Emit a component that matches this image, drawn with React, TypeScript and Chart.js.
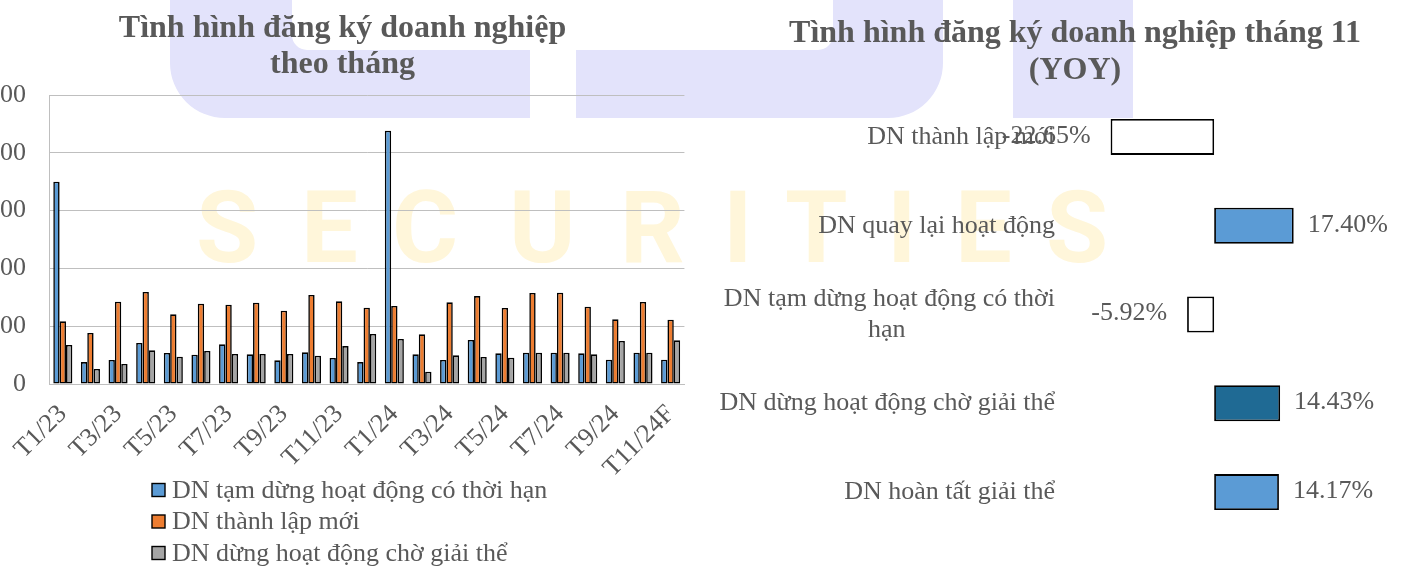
import React, { useEffect, useRef } from "react";
import { Chart, registerables } from "chart.js";

Chart.register(...registerables);

// ---------- Left chart data ----------
const months = [
  "T1/23", "T2/23", "T3/23", "T4/23", "T5/23", "T6/23", "T7/23", "T8/23", "T9/23", "T10/23", "T11/23", "T12/23",
  "T1/24", "T2/24", "T3/24", "T4/24", "T5/24", "T6/24", "T7/24", "T8/24", "T9/24", "T10/24", "T11/24F",
];
const seriesNames = [
  "DN tạm dừng hoạt động có thời hạn",
  "DN thành lập mới",
  "DN dừng hoạt động chờ giải thể",
];
const suspended = [35000, 3800, 4150, 7090, 5360, 5080, 6860, 5130, 4090, 5480, 4500, 3800, 43830, 5130, 4150, 7610, 5300, 5420, 5420, 5300, 4210, 5420, 4210];
const newlyFounded = [10840, 8820, 14240, 15920, 12050, 13900, 13730, 14070, 12690, 15400, 14300, 13210, 13500, 8590, 14130, 15220, 13150, 15740, 15800, 13380, 11190, 14190, 11130];
const awaitingDissolution = [6750, 2600, 3460, 5820, 4730, 5710, 5190, 5190, 5190, 4900, 6570, 8650, 7790, 2130, 4960, 4670, 4560, 5420, 5420, 5130, 7440, 5420, 7550];
const yTicks = [0, 10000, 20000, 30000, 40000, 50000];

// ---------- Right chart data ----------
const yoyCategories: (string | string[])[] = [
  "DN thành lập mới",
  "DN quay lại hoạt động",
  ["DN tạm dừng hoạt động có thời", "hạn"],
  "DN dừng hoạt động chờ giải thể",
  "DN hoàn tất giải thể",
];
const yoyValues = [-22.65, 17.4, -5.92, 14.43, 14.17];

// ---------- Styles ----------
const SERIF = '"Liberation Serif", "Times New Roman", serif';
const TEXT = "#595959";
const seriesColors = ["#5B9BD5", "#ED7D31", "#A5A5A5"];
const yoyColors = ["#FFFFFF", "#5B9BD5", "#FFFFFF", "#1F6A94", "#5B9BD5"];

function centerWrapped(lines: string[], font: string): string[] {
  const c = document.createElement("canvas").getContext("2d")!;
  c.font = font;
  const widths = lines.map((l) => c.measureText(l).width);
  const max = Math.max(...widths);
  const sp = c.measureText(" ").width || 6.5;
  return lines.map((l, i) => l + " ".repeat(Math.round((max - widths[i]) / 2 / sp)));
}

const stackedLegend = {
  id: "stackedLegend",
  afterDraw(chart: any) {
    const { ctx, chartArea } = chart;
    ctx.save();
    ctx.font = `26px ${SERIF}`;
    ctx.textBaseline = "middle";
    ctx.textAlign = "left";
    chart.data.datasets.forEach((ds: any, i: number) => {
      const y = chartArea.bottom + 106 + i * 31.5;
      const x = chartArea.left + 103;
      ctx.fillStyle = ds.backgroundColor;
      ctx.fillRect(x, y - 6.5, 13, 13);
      ctx.strokeStyle = "#000";
      ctx.lineWidth = 1.4;
      ctx.strokeRect(x, y - 6.5, 13, 13);
      ctx.fillStyle = TEXT;
      ctx.fillText(ds.label, x + 20, y + 1);
    });
    ctx.restore();
  },
};

const yoyLabels = {
  id: "yoyLabels",
  afterDatasetsDraw(chart: any) {
    const ctx = chart.ctx;
    const meta = chart.getDatasetMeta(0);
    ctx.save();
    ctx.font = `26px ${SERIF}`;
    ctx.fillStyle = TEXT;
    ctx.textBaseline = "middle";
    meta.data.forEach((bar: any, i: number) => {
      const v = yoyValues[i];
      const txt = v.toFixed(2) + "%";
      if (v >= 0) {
        ctx.textAlign = "left";
        ctx.fillText(txt, bar.x + 14, bar.y - 1);
      } else {
        ctx.textAlign = "right";
        ctx.fillText(txt, bar.x - 20, bar.y - 1);
      }
    });
    ctx.restore();
  },
};

const watermarkLetters = ["S", "E", "C", "U", "R", "I", "T", "I", "E", "S"];
const watermarkX = [196, 301, 392, 509, 620, 723, 785, 887, 955, 1046];

export default function App() {
  const leftRef = useRef<HTMLCanvasElement>(null);
  const rightRef = useRef<HTMLCanvasElement>(null);

  useEffect(() => {
    const tickFont = { family: SERIF, size: 26 };
    const left = new Chart(leftRef.current!, {
      type: "bar",
      data: {
        labels: months,
        datasets: [suspended, newlyFounded, awaitingDissolution].map((d, i) => ({
          label: seriesNames[i],
          data: d,
          backgroundColor: seriesColors[i],
          borderColor: "#000000",
          borderWidth: 1.6,
          borderSkipped: false,
          barPercentage: 1,
          categoryPercentage: 0.69,
        })),
      },
      options: {
        responsive: false,
        animation: false,
        layout: { padding: { left: 0, right: 15, top: 0, bottom: 83 }, autoPadding: false },
        plugins: {
          legend: { display: false },
          tooltip: { enabled: false },
          title: {
            display: true,
            text: ["Tình hình đăng ký doanh nghiệp", "theo tháng"],
            color: TEXT,
            font: { family: SERIF, size: 32, weight: "bold", lineHeight: 1.15 },
            padding: { top: 10, bottom: 11.4 },
          },
        },
        scales: {
          x: {
            grid: { display: false },
            border: { display: true, color: "#BFBFBF" },
            ticks: {
              autoSkip: false,
              minRotation: 45,
              maxRotation: 45,
              color: TEXT,
              font: tickFont,
              padding: 7,
              callback: (_v: any, i: number) => (i % 2 === 0 ? months[i] : ""),
            },
            afterFit: (s: any) => {
              s.height = 100;
            },
          },
          y: {
            min: 0,
            max: 50000,
            afterBuildTicks: (s: any) => {
              s.ticks = yTicks.map((v) => ({ value: v }));
            },
            grid: { color: "#BFBFBF", drawTicks: false },
            border: { display: true, color: "#BFBFBF" },
            ticks: { color: TEXT, font: tickFont, padding: 23 },
            afterFit: (s: any) => {
              s.width = 49;
            },
          },
        },
      } as any,
      plugins: [stackedLegend],
    });

    const labelFont = `26px ${SERIF}`;
    const right = new Chart(rightRef.current!, {
      type: "bar",
      data: {
        labels: yoyCategories as any,
        datasets: [
          {
            label: "YOY",
            data: yoyValues,
            backgroundColor: yoyColors,
            borderColor: "#000000",
            borderWidth: 1.8,
            borderSkipped: false,
            barPercentage: 0.405,
            categoryPercentage: 1,
          },
        ],
      },
      options: {
        indexAxis: "y",
        responsive: false,
        animation: false,
        layout: { padding: { left: 10, right: 60, top: 0, bottom: 30.5 }, autoPadding: false },
        plugins: {
          legend: { display: false },
          tooltip: { enabled: false },
          title: {
            display: true,
            text: ["Tình hình đăng ký doanh nghiệp tháng 11", "(YOY)"],
            color: TEXT,
            font: { family: SERIF, size: 32, weight: "bold", lineHeight: 1.15 },
            padding: { top: 15.6, bottom: 3.3 },
          },
        },
        scales: {
          x: { display: false, min: -30, max: 49.4 },
          y: {
            grid: { display: false, drawTicks: false },
            border: { display: false },
            ticks: {
              color: TEXT,
              font: { family: SERIF, size: 26, lineHeight: 1.2 },
              padding: 22,
              callback: (_v: any, i: number) => {
                const l = yoyCategories[i];
                return Array.isArray(l) ? centerWrapped(l, labelFont) : l;
              },
            },
            afterFit: (s: any) => {
              s.width = 367;
              s.paddingTop = 0;
              s.paddingBottom = 0;
            },
          },
        },
      } as any,
      plugins: [yoyLabels],
    });

    return () => {
      left.destroy();
      right.destroy();
    };
  }, []);

  return (
    <div style={{ position: "absolute", left: 0, top: 0, width: 1405, height: 567, overflow: "hidden", background: "#FFFFFF" }}>
      <svg width={1405} height={567} style={{ position: "absolute", left: 0, top: 0 }}>
        <path d="M170 0 H292 V35 A15 15 0 0 0 307 50 H530 V118 H225 A55 55 0 0 1 170 63 Z" fill="#E3E3FB" />
        <path d="M576 50 H818 A15 15 0 0 0 833 35 V0 H943 V63 A55 55 0 0 1 888 118 H576 Z" fill="#E3E3FB" />
        <rect x={1013} y={0} width={120} height={118} fill="#E3E3FB" />
        {watermarkLetters.map((ch, i) => (
          <text key={i} x={watermarkX[i]} y={262} fontFamily="Roboto, 'DejaVu Sans', sans-serif" fontWeight={700} fontSize={101} fill="#FFF6DA">
            {ch}
          </text>
        ))}
      </svg>
      <canvas ref={leftRef} width={700} height={567} style={{ position: "absolute", left: 0, top: 0, width: 700, height: 567 }} />
      <canvas ref={rightRef} width={800} height={567} style={{ position: "absolute", left: 700, top: 0, width: 800, height: 567 }} />
    </div>
  );
}
